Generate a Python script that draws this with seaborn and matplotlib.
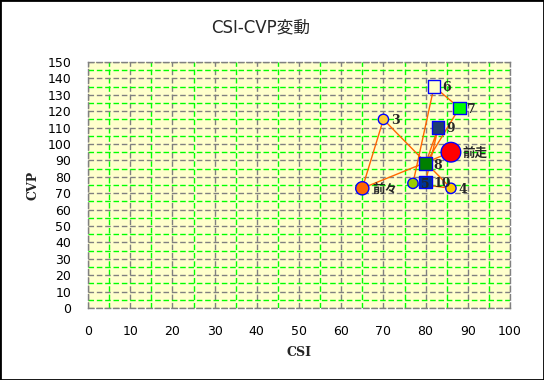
import seaborn as sns
import pandas as pd
import matplotlib.pyplot as plt
from matplotlib.patches import Rectangle

# race order: latest first, line follows this order
races = ['前走', '前々', '3', '4', '5', '6', '7', '8', '9', '10']
csi = [86, 65, 70, 86, 77, 82, 88, 80, 83, 80]
cvp = [95, 73, 115, 73, 76, 135, 122, 88, 110, 77]

df = pd.DataFrame({'CSI': csi, 'CVP': cvp, 'race': races})

palette = {'前走': '#FF0000', '前々': '#FF6600', '3': '#FFCC33', '4': '#FFCC00',
           '5': '#99CC00', '6': '#FFFFCC', '7': '#00FF00', '8': '#008000',
           '9': '#1F3F6F', '10': '#003399'}
markers = {'前走': 'o', '前々': 'o', '3': 'o', '4': 'o', '5': 'o',
           '6': 's', '7': 's', '8': 's', '9': 's', '10': 's'}
sizes = {'前走': 200, '前々': 90, '3': 55, '4': 55, '5': 55,
         '6': 80, '7': 80, '8': 80, '9': 80, '10': 80}

sns.set_style('white')
plt.rcParams['font.family'] = ['DejaVu Sans', 'Noto Sans CJK JP']

fig = plt.figure(figsize=(5.44, 3.80), dpi=100)
ax = fig.add_axes([88 / 544, 72 / 380, 422 / 544, 246 / 380])
ax.set_facecolor('#FFFFCC')

sns.lineplot(data=df, x='CSI', y='CVP', sort=False, estimator=None,
             color='#FF6600', lw=1, ax=ax, zorder=2)
sns.scatterplot(data=df, x='CSI', y='CVP', hue='race', style='race', size='race',
                palette=palette, markers=markers, sizes=sizes,
                edgecolor='#0000FF', linewidth=1, legend=False, ax=ax, zorder=3)

for r, x, y in zip(races, csi, cvp):
    off = 12 if r == '前走' else (10 if r == '前々' else 8)
    ax.annotate(r, (x, y), xytext=(off * 0.72, -1), textcoords='offset points',
                ha='left', va='center', fontsize=9, fontweight='bold',
                family=['DejaVu Serif', 'Noto Sans CJK JP'], zorder=4)

ax.set_xlim(0, 100)
ax.set_ylim(0, 150)
ax.set_xticks(range(0, 101, 10))
ax.set_yticks(range(0, 151, 10))
ax.set_xticks(range(5, 100, 10), minor=True)
ax.set_yticks(range(5, 150, 10), minor=True)
ax.grid(which='major', color='#808080', linestyle=(0, (4, 2)), lw=1, zorder=0)
ax.grid(which='minor', color='#00FF00', linestyle=(0, (4, 2)), lw=1, zorder=0)
ax.set_axisbelow(True)
ax.tick_params(which='both', length=0, labelsize=9, pad=12, colors='black')
for s in ax.spines.values():
    s.set_color('#808080')
    s.set_linestyle((0, (4, 2)))
    s.set_linewidth(1)

ax.set_xlabel('CSI', fontsize=9, fontweight='bold', family='DejaVu Serif', labelpad=6)
ax.set_ylabel('CVP', fontsize=9, fontweight='bold', family='DejaVu Serif', labelpad=6)

fig.text(261 / 544, 1 - 27 / 380, 'CSI-CVP変動', ha='center', va='center',
         fontsize=12, family=['DejaVu Sans', 'Noto Sans CJK JP'])
fig.patches.append(Rectangle((0, 0), 1, 1, transform=fig.transFigure,
                             fill=False, edgecolor='black', lw=2))

fig.savefig('out.png', dpi=100, facecolor='white')
